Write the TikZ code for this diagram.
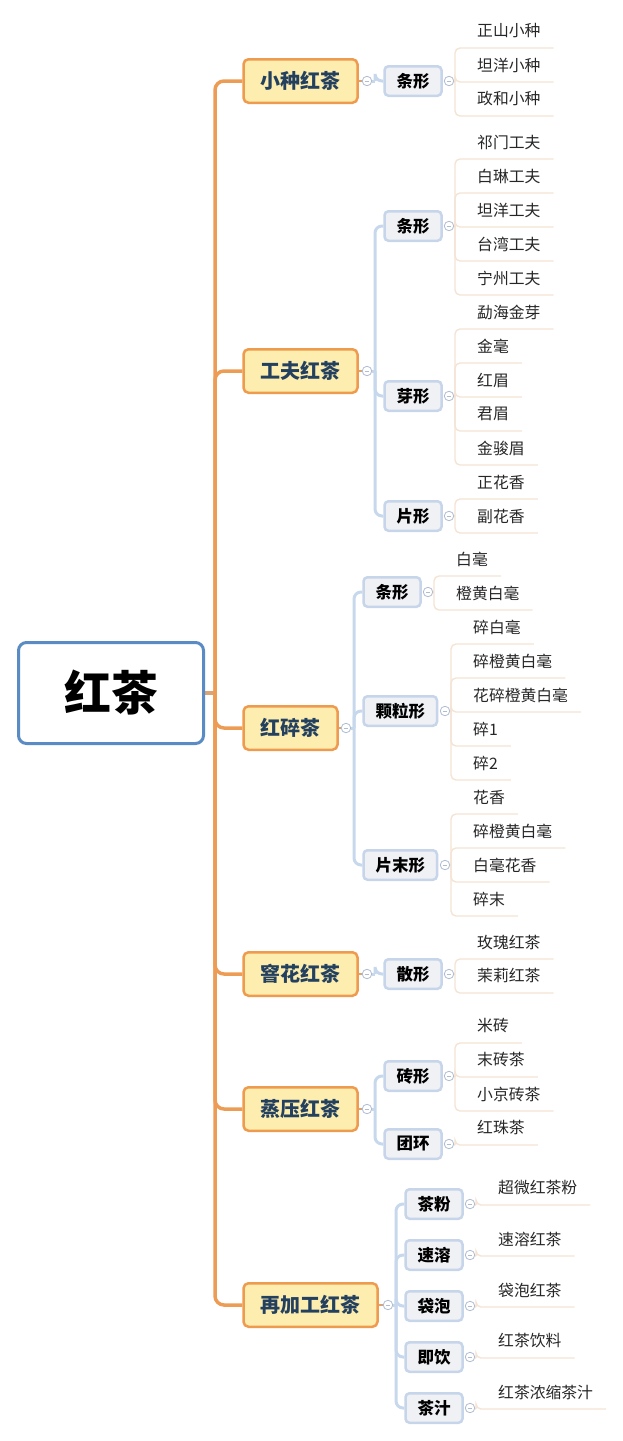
\documentclass[tikz,border=0pt]{standalone}
\usepackage{fontspec}
\setmainfont{Noto Sans CJK SC}
\usetikzlibrary{calc}
\definecolor{rootblue}{HTML}{5B8BC5}
\definecolor{lonebd}{HTML}{EE9B4F}
\definecolor{lonefill}{HTML}{FDEDAE}
\definecolor{lonetext}{HTML}{23405F}
\definecolor{trunkc}{HTML}{ED9C55}
\definecolor{stubc}{HTML}{D9A478}
\definecolor{ltwobd}{HTML}{C6D5EA}
\definecolor{ltwofill}{HTML}{EFF1F5}
\definecolor{sublc}{HTML}{C8D8EC}
\definecolor{leaflc}{HTML}{F5E3D4}
\definecolor{circc}{HTML}{AFBDD3}
\definecolor{leaftext}{HTML}{262626}
\pgfdeclarelayer{bg}
\pgfsetlayers{bg,main}
\newcommand\leafgroup[4]{%
  \foreach \t/\y [count=\i] in {#4} {%
    \node[leaf] (#1\i) at (#2,\y) {\t};
    \begin{pgfonlayer}{bg}
      \draw[leafline] (#3) |- ([xshift=13pt,yshift=-17pt]#1\i.east);
    \end{pgfonlayer}
  }%
}
\begin{document}
\begin{tikzpicture}[x=1pt,y=-1pt,
  rootbox/.style={draw=rootblue, line width=3pt, rounded corners=8pt, fill=white,
    minimum width=185pt, minimum height=101pt, inner sep=0pt,
    font=\bfseries\fontsize{47}{50}\selectfont},
  lvlone/.style={draw=lonebd, fill=lonefill, line width=2.5pt, rounded corners=5pt,
    minimum height=43.5pt, inner xsep=17pt, inner ysep=0pt, anchor=west, text=lonetext,
    font=\bfseries\fontsize{20}{22}\selectfont},
  lvltwo/.style={draw=ltwobd, fill=ltwofill, line width=2.5pt, rounded corners=4pt,
    minimum height=29.5pt, inner xsep=12pt, inner ysep=0pt, anchor=west, text=black,
    font=\bfseries\fontsize{16.5}{18}\selectfont},
  leaf/.style={anchor=west, inner sep=0pt, text=leaftext, font=\fontsize{15.8}{17}\selectfont},
  trunkline/.style={draw=trunkc, line width=3.5pt, rounded corners=9pt},
  stubline/.style={draw=stubc, line width=3.5pt},
  subline/.style={draw=sublc, line width=3pt, rounded corners=7pt},
  leafline/.style={draw=leaflc, line width=1.4pt, rounded corners=5pt},
  linkline/.style={draw=stubc, line width=1.2pt},
  collapse/.style={circle, draw=circc, fill=white, line width=0.8pt, minimum size=9.5pt, inner sep=0pt,
    path picture={\draw[circc, line width=0.7pt] ([xshift=-2.4pt]path picture bounding box.center) -- ([xshift=2.4pt]path picture bounding box.center);}}
]
\useasboundingbox (0,0) rectangle (623,1441);

% root
\node[rootbox] (root) at (111,693) {红茶};
\coordinate (hub) at (215,693);

% level 1
\node[lvlone] (LA) at (242.25,81) {小种红茶};
\node[lvlone] (LB) at (242.25,371) {工夫红茶};
\node[lvlone] (LC) at (242.25,728) {红碎茶};
\node[lvlone] (LD) at (242.25,974) {窨花红茶};
\node[lvlone] (LE) at (242.25,1109) {蒸压红茶};
\node[lvlone] (LF) at (242.25,1305) {再加工红茶};

\begin{pgfonlayer}{bg}
  \draw[stubline] (root.east) -- (hub);
  \foreach \n in {LA,LB,LC,LD,LE,LF} { \draw[trunkline] (hub) |- (\n.west); }
\end{pgfonlayer}

% level-1 collapse circles and junctions
\node[collapse] (cA) at (367,81) {};
\node[collapse] (cB) at (367,371) {};
\node[collapse] (cC) at (346,728) {};
\node[collapse] (cD) at (367,974) {};
\node[collapse] (cE) at (367,1109) {};
\node[collapse] (cF) at (388,1305) {};
\coordinate (jA) at (375,81);
\coordinate (jB) at (375,371);
\coordinate (jC) at (354,728);
\coordinate (jD) at (375,974);
\coordinate (jE) at (375,1109);
\coordinate (jF) at (396,1305);

% level 2
\node[lvltwo] (A1) at (383.25,81) {条形};
\node[lvltwo] (B1) at (383.25,226) {条形};
\node[lvltwo] (B2) at (383.25,396) {芽形};
\node[lvltwo] (B3) at (383.25,516) {片形};
\node[lvltwo] (C1) at (362.25,592) {条形};
\node[lvltwo] (C2) at (362.25,711) {颗粒形};
\node[lvltwo] (C3) at (362.25,865) {片末形};
\node[lvltwo] (D1) at (383.25,974) {散形};
\node[lvltwo] (E1) at (383.25,1076) {砖形};
\node[lvltwo] (E2) at (383.25,1144) {团环};
\node[lvltwo] (F1) at (404.25,1204) {茶粉};
\node[lvltwo] (F2) at (404.25,1255) {速溶};
\node[lvltwo] (F3) at (404.25,1306) {袋泡};
\node[lvltwo] (F4) at (404.25,1357) {即饮};
\node[lvltwo] (F5) at (404.25,1408) {茶汁};

\begin{pgfonlayer}{bg}
  \foreach \p/\c in {LA/cA,LB/cB,LC/cC,LD/cD,LE/cE,LF/cF} { \draw[linkline] (\p.east) -- (\c); }
  \foreach \c/\j in {cA/jA,cB/jB,cC/jC,cD/jD,cE/jE,cF/jF} { \draw[subline] (\c) -- (\j); }
  \draw[subline] (jA) |- (A1.west);
  \foreach \n in {B1,B2,B3} { \draw[subline] (jB) |- (\n.west); }
  \foreach \n in {C1,C2,C3} { \draw[subline] (jC) |- (\n.west); }
  \draw[subline] (jD) |- (D1.west);
  \foreach \n in {E1,E2} { \draw[subline] (jE) |- (\n.west); }
  \foreach \n in {F1,F2,F3,F4,F5} { \draw[subline] (jF) |- (\n.west); }
\end{pgfonlayer}

% level-2 collapse circles and leaf junctions
\node[collapse] (dA1) at (449,81) {};
\node[collapse] (dB1) at (449,226) {};
\node[collapse] (dB2) at (449,396) {};
\node[collapse] (dB3) at (449,516) {};
\node[collapse] (dC1) at (428,592) {};
\node[collapse] (dC2) at (445,711) {};
\node[collapse] (dC3) at (445,865) {};
\node[collapse] (dD1) at (449,974) {};
\node[collapse] (dE1) at (449,1076) {};
\node[collapse] (dE2) at (449,1144) {};
\node[collapse] (dF1) at (470,1204) {};
\node[collapse] (dF2) at (470,1255) {};
\node[collapse] (dF3) at (470,1306) {};
\node[collapse] (dF4) at (470,1357) {};
\node[collapse] (dF5) at (470,1408) {};

\coordinate (kA1) at (455,82);
\coordinate (kB1) at (455,227);
\coordinate (kB2) at (455,397);
\coordinate (kB3) at (455,516);
\coordinate (kC1) at (434,592);
\coordinate (kC2) at (451,712);
\coordinate (kC3) at (451,865);
\coordinate (kD1) at (455,974);
\coordinate (kE1) at (455,1077);
\coordinate (kE2) at (455,1145);
\coordinate (kF1) at (476,1205);
\coordinate (kF2) at (476,1256);
\coordinate (kF3) at (476,1307);
\coordinate (kF4) at (476,1358);
\coordinate (kF5) at (476,1409);

\begin{pgfonlayer}{bg}
  \foreach \d/\k in {dA1/kA1,dB1/kB1,dB2/kB2,dB3/kB3,dC1/kC1,dC2/kC2,dC3/kC3,dD1/kD1,dE1/kE1,dE2/kE2,dF1/kF1,dF2/kF2,dF3/kF3,dF4/kF4,dF5/kF5}
    { \draw[leafline] (\d) -- (\k); }
\end{pgfonlayer}

% leaves
\leafgroup{a}{477}{kA1}{正山小种/31, 坦洋小种/65, 政和小种/99}
\leafgroup{b}{477}{kB1}{祁门工夫/142, 白琳工夫/176, 坦洋工夫/210, 台湾工夫/244, 宁州工夫/278}
\leafgroup{c}{477}{kB2}{勐海金芽/312, 金毫/346, 红眉/380, 君眉/414, 金骏眉/448}
\leafgroup{d}{477}{kB3}{正花香/482, 副花香/516}
\leafgroup{e}{456}{kC1}{白毫/559, 橙黄白毫/593}
\leafgroup{f}{473}{kC2}{碎白毫/627, 碎橙黄白毫/661, 花碎橙黄白毫/695, 碎1/729, 碎2/763}
\leafgroup{g}{473}{kC3}{花香/797, 碎橙黄白毫/831, 白毫花香/865, 碎末/899}
\leafgroup{h}{477}{kD1}{玫瑰红茶/942, 茉莉红茶/976}
\leafgroup{i}{477}{kE1}{米砖/1026, 末砖茶/1060, 小京砖茶/1094}
\leafgroup{j}{477}{kE2}{红珠茶/1128}
\leafgroup{m}{498}{kF1}{超微红茶粉/1188}
\leafgroup{n}{498}{kF2}{速溶红茶/1239}
\leafgroup{p}{498}{kF3}{袋泡红茶/1290}
\leafgroup{q}{498}{kF4}{红茶饮料/1341}
\leafgroup{r}{498}{kF5}{红茶浓缩茶汁/1392}
\end{tikzpicture}
\end{document}
